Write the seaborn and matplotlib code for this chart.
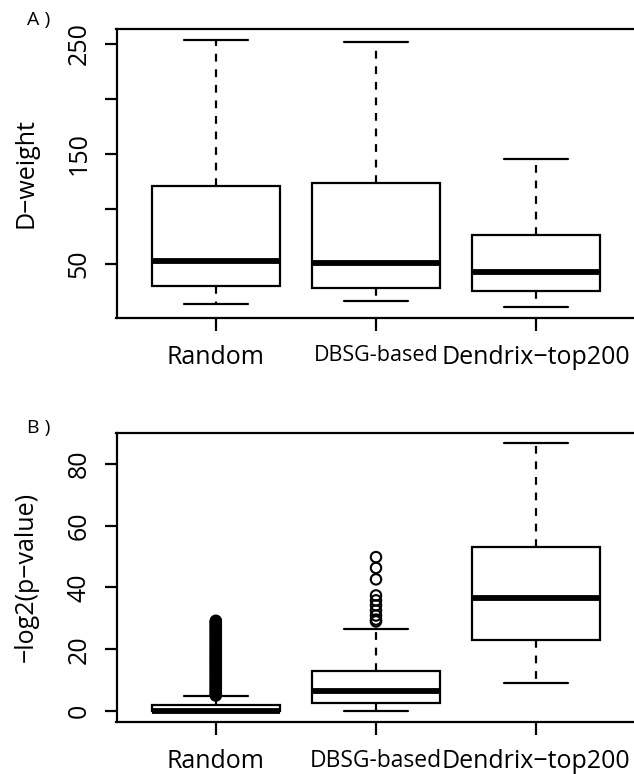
import numpy as np
import pandas as pd
import matplotlib
matplotlib.use("Agg")
import matplotlib.pyplot as plt
import seaborn as sns

groups = ["Random", "DBSG-based", "Dendrix\u2212top200"]

# five-number summaries: low whisker, Q1, median, Q3, high whisker
dweight_random = [13.6, 30.0, 52.7, 120.9, 253.4]
dweight_dbsg = [16.4, 28.2, 50.9, 123.1, 251.3]
dweight_dendrix = [10.6, 24.8, 42.5, 76.1, 144.9]

pval_random = [0.0, 0.0, 0.0, 1.95, 4.96]
pval_dbsg = [0.0, 2.6, 6.6, 13.1, 26.6]
pval_dendrix = [8.95, 22.9, 36.5, 53.1, 86.6]

# outliers (panel B)
out_random = [5.0, 5.4, 5.9, 6.3, 6.8, 7.2, 7.7, 8.1, 8.6, 9.0, 9.5, 9.9,
              10.4, 10.8, 11.3, 11.7, 12.2, 12.6, 13.1, 13.5, 14.0, 14.4,
              14.9, 15.3, 15.8, 16.2, 16.7, 17.1, 17.6, 18.0, 18.5, 18.9,
              19.4, 19.8, 20.3, 20.7, 21.2, 21.6, 22.1, 22.5, 23.0, 23.4,
              23.9, 24.3, 24.8, 25.2, 25.7, 26.1, 26.6, 27.0, 27.5, 27.9,
              28.4, 28.8, 29.2]
out_dbsg = [29.0, 29.6, 30.9, 32.5, 34.2, 35.8, 37.4, 42.6, 46.3, 49.8]

sns.set_style("white")
plt.rcParams['font.family'] = ['Open Sans', 'DejaVu Sans']
plt.rcParams['axes.linewidth'] = 1.5
plt.rcParams['text.color'] = 'black'
plt.rcParams['axes.labelcolor'] = 'black'
plt.rcParams['xtick.color'] = 'black'
plt.rcParams['ytick.color'] = 'black'


def frame(summaries):
    rows = []
    for g, vals in zip(groups, summaries):
        for v in vals:
            rows.append((g, v))
    return pd.DataFrame(rows, columns=["group", "value"])


def draw_boxes(ax, df):
    sns.boxplot(data=df, x="group", y="value", order=groups, ax=ax,
                color="white", linecolor="black", linewidth=1.6, saturation=1,
                width=0.8, whis=(0, 100), showfliers=False, capwidths=0.4,
                medianprops=dict(linewidth=4.2),
                whiskerprops=dict(linestyle=(0, (3.5, 3.5))))
    lo, hi = df["value"].min(), df["value"].max()
    r = hi - lo
    ax.set_ylim(lo - 0.04 * r, hi + 0.04 * r)
    ax.set_xlim(-0.62, 2.62)
    ax.set_xlabel("")
    for s in ax.spines.values():
        s.set_visible(True)
        s.set_color("black")
        s.set_linewidth(1.6)
    ax.tick_params(axis="both", length=9, width=1.6, labelsize=18, pad=9,
                   left=True, bottom=True, color="black", labelcolor="black")
    ax.tick_params(axis="x", pad=11)


fig = plt.figure(figsize=(6.34, 7.74), dpi=100)

ax1 = fig.add_axes([116.5 / 634, (774 - 317.7) / 774, 519 / 634, 288.4 / 774])
draw_boxes(ax1, frame([dweight_random, dweight_dbsg, dweight_dendrix]))
ax1.set_yticks([50, 100, 150, 200, 250])
ax1.set_yticklabels(["50", "", "150", "", "250"], rotation=90, va="center")
ax1.set_ylabel("D\u2212weight", fontsize=18)
ax1.yaxis.set_label_coords(-0.15, 0.5)
ax1.set_xticks([0, 1, 2])
ax1.set_xticklabels(groups)
ax1.get_xticklabels()[1].set_fontsize(15.5)

ax2 = fig.add_axes([116.5 / 634, (774 - 721.7) / 774, 519 / 634, 289 / 774])
draw_boxes(ax2, frame([pval_random, pval_dbsg, pval_dendrix]))
outliers = pd.DataFrame({
    "group": [groups[0]] * len(out_random) + [groups[1]] * len(out_dbsg),
    "value": out_random + out_dbsg,
})
sns.stripplot(data=outliers, x="group", y="value", order=groups, ax=ax2,
              jitter=False, size=7.5, marker="o", facecolor="none",
              edgecolor="black", linewidth=1.5)
ax2.set_xlim(-0.62, 2.62)
ax2.set_xlabel("")
ax2.set_yticks([0, 20, 40, 60, 80])
ax2.set_yticklabels(["0", "20", "40", "60", "80"], rotation=90, va="center")
ax2.set_ylabel("\u2212log2(p\u2212value)", fontsize=18)
ax2.yaxis.set_label_coords(-0.15, 0.5)
ax2.set_xticks([0, 1, 2])
ax2.set_xticklabels(groups)
ax2.get_xticklabels()[1].set_fontsize(16.5)

fig.text(27 / 634, 1 - 25 / 774, "A )", fontsize=14, va="baseline")
fig.text(27 / 634, 1 - 433 / 774, "B )", fontsize=14, va="baseline")

fig.savefig("out.png", dpi=100)
